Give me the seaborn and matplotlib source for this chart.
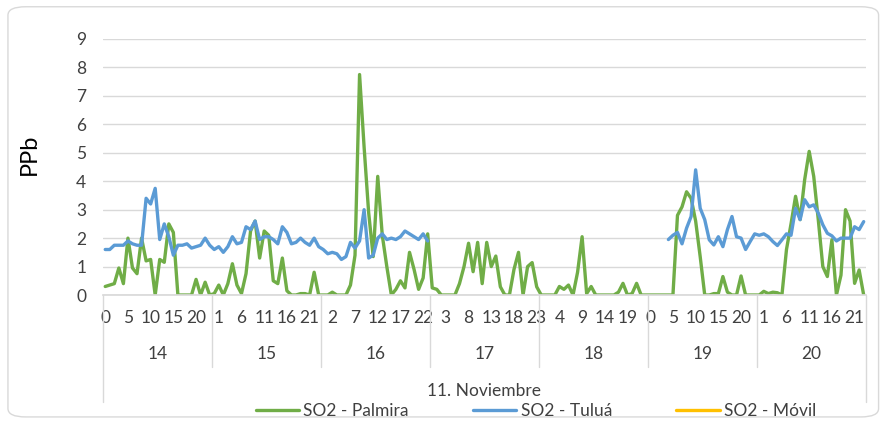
import pandas as pd
import seaborn as sns
import matplotlib.pyplot as plt
from matplotlib.lines import Line2D
from matplotlib.patches import FancyBboxPatch

# categories
dias = ['14', '15', '16', '17', '18', '19', '20']
mes = '11. Noviembre'
series = ['SO2 - Palmira', 'SO2 - Tuluá', 'SO2 - Móvil']
colores = ['#70AD47', '#5B9BD5', '#FFC000']

# hourly SO2 (ppb), 24 values per day, None = no data
palmira = [
    0.3, 0.35, 0.4, 0.95, 0.4, 2.0, 0.95, 0.75, 2.0, 1.2, 1.25, 0.0, 1.25, 1.15, 2.5, 2.2, 0.0, 0.0, 0.0, 0.0, 0.55, 0.0, 0.45, 0.0,
    0.05, 0.35, 0.0, 0.4, 1.1, 0.35, 0.05, 0.75, 2.25, 2.6, 1.3, 2.25, 2.1, 0.5, 0.4, 1.3, 0.15, 0.0, 0.0, 0.05, 0.05, 0.0, 0.8, 0.0,
    0.0, 0.0, 0.1, 0.0, 0.0, 0.0, 0.35, 1.4, 7.75, 5.2, 2.9, 1.35, 4.17, 2.1, 1.0, 0.0, 0.2, 0.5, 0.25, 1.5, 0.9, 0.2, 0.6, 2.15,
    0.25, 0.2, 0.0, 0.0, 0.0, 0.0, 0.4, 1.0, 1.82, 0.82, 1.85, 0.4, 1.85, 1.0, 1.37, 0.29, 0.0, 0.0, 0.9, 1.5, 0.0, 1.0, 1.14, 0.29,
    0.0, 0.0, 0.0, 0.0, 0.3, 0.2, 0.35, 0.0, 0.8, 2.05, 0.05, 0.3, 0.0, 0.0, 0.0, 0.0, 0.0, 0.1, 0.41, 0.0, 0.05, 0.41, 0.0, 0.0,
    0.0, 0.0, 0.0, 0.0, 0.0, 0.0, 2.8, 3.1, 3.63, 3.4, 2.6, 1.35, 0.0, 0.0, 0.05, 0.05, 0.65, 0.1, 0.0, 0.0, 0.67, 0.0, 0.0, 0.0,
    0.0, 0.13, 0.05, 0.1, 0.08, 0.0, 1.6, 2.5, 3.47, 2.65, 4.05, 5.05, 4.17, 2.65, 1.0, 0.65, 1.94, 0.0, 0.7, 3.0, 2.6, 0.41, 0.88, 0.0,
]
tulua = [
    1.6, 1.6, 1.75, 1.75, 1.75, 1.9, 1.8, 1.75, 1.75, 3.4, 3.2, 3.75, 1.95, 2.5, 2.05, 1.4, 1.75, 1.75, 1.8, 1.65, 1.7, 1.75, 2.0, 1.75,
    1.6, 1.7, 1.5, 1.7, 2.05, 1.8, 1.85, 2.4, 2.3, 2.6, 1.95, 2.05, 2.05, 1.95, 1.8, 2.4, 2.2, 1.8, 1.85, 2.0, 1.85, 1.75, 2.0, 1.7,
    1.6, 1.45, 1.5, 1.45, 1.25, 1.35, 1.85, 1.65, 1.9, 3.0, 1.3, 1.4, 2.0, 2.15, 1.95, 2.0, 1.95, 2.05, 2.25, 2.15, 2.05, 1.95, 2.15, 1.9,
] + [None] * 52 + [
    1.95, 2.1, 2.2, 1.8, 2.35, 2.76, 4.4, 3.05, 2.65, 1.94, 1.76, 2.05, 1.7, 2.3, 2.76, 2.05, 2.0, 1.6, 1.88, 2.15,
    2.1, 2.15, 2.05, 1.88, 1.74, 1.94, 2.15, 2.1, 3.05, 2.65, 3.35, 3.1, 3.17, 2.88, 2.47, 2.17, 2.08, 1.9, 2.0, 2.0, 2.0, 2.4, 2.3, 2.58,
]
movil = [None] * len(palmira)  # no data reported

n = len(palmira)
horas = [h for d in dias for h in range(24)]

# long table, one "tramo" per unbroken run so gaps stay gaps
filas = []
for nombre, valores in zip(series, [palmira, tulua, movil]):
    tramo = 0
    for i, v in enumerate(valores):
        if v is None:
            tramo += 1
            continue
        filas.append({'idx': i, 'ppb': v, 'serie': nombre, 'tramo': f'{nombre}-{tramo}'})
df = pd.DataFrame(filas)

sns.set_theme(style='white')
plt.rcParams['font.family'] = ['Lato', 'DejaVu Sans']

fig = plt.figure(figsize=(8.83, 4.22), dpi=100)
ax = fig.add_axes([0.1166, 0.3009, 0.8641, 0.6067])

sns.lineplot(data=df, x='idx', y='ppb', hue='serie', hue_order=series[:2],
             palette=colores[:2], units='tramo', estimator=None,
             linewidth=2.4, legend=False, ax=ax)

ax.set_xlim(-0.5, n - 0.5)
ax.set_ylim(0, 9)
ax.set_yticks(range(10))
ax.set_axisbelow(True)
ax.yaxis.grid(True, color='#D9D9D9', lw=1)
ax.xaxis.grid(False)
for s in ['top', 'right', 'left']:
    ax.spines[s].set_visible(False)
ax.spines['bottom'].set_color('#D9D9D9')

ticks = [i for i in range(n) if i % 5 == 0]
ax.set_xticks(ticks)
ax.set_xticklabels([str(horas[i]) for i in ticks])
ax.tick_params(axis='x', length=0, pad=11, labelsize=12.5, labelcolor='#404040')
ax.tick_params(axis='y', length=0, pad=12, labelsize=12.5, labelcolor='#404040')
ax.set_xlabel('')
ax.set_ylabel('PPb', fontsize=17, color='black')
ax.yaxis.set_label_coords(-0.083, 0.55)

# multi-level category axis: days, then month
trans = ax.get_xaxis_transform()
for k, d in enumerate(dias):
    ax.text(k * 24 + 11.5, -0.232, d, transform=trans, ha='center', va='center',
            fontsize=12.5, color='#404040')
for k in range(1, len(dias)):
    ax.plot([k * 24 - 0.5] * 2, [0, -0.281], transform=trans, color='#D9D9D9',
            lw=1, clip_on=False)
for x in [-0.5, n - 0.5]:
    ax.plot([x, x], [0, -0.418], transform=trans, color='#D9D9D9', lw=1, clip_on=False)
ax.text((n - 1) / 2, -0.375, mes, transform=trans, ha='center', va='center',
        fontsize=12.5, color='#404040')

handles = [Line2D([], [], color=c, lw=2.4) for c in colores]
fig.legend(handles, series, loc='center', bbox_to_anchor=(0.607, 0.025), ncol=3,
           frameon=False, handlelength=2.5, handletextpad=0.25, columnspacing=3.7,
           fontsize=12.5, labelcolor='#404040')

fig.patches.append(FancyBboxPatch((0.009, 0.012), 0.986, 0.972,
                                  boxstyle='round,pad=0,rounding_size=0.02',
                                  transform=fig.transFigure, fc='none',
                                  ec='#D9D9D9', lw=1))

fig.savefig('out.png', dpi=100)
